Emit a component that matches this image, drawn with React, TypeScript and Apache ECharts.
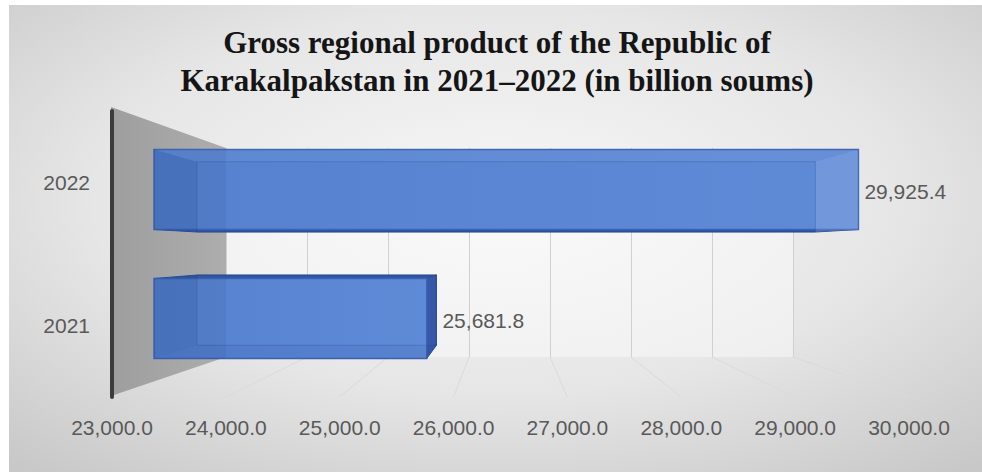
import { useEffect, useRef } from 'react';
import * as echarts from 'echarts';

// ---- data ----
const categories = ['2021', '2022'];
const gdpValues = [25681.8, 29925.4];
const axisMin = 23000;
const axisMax = 30000;
const axisStep = 1000;
const gridTicks = [23000, 24000, 25000, 26000, 27000, 28000, 29000, 30000];
const titleLines = [
  'Gross regional product of the Republic of',
  'Karakalpakstan in 2021\u20132022 (in billion soums)',
];

// ---- layout / style ----
const W = 982;
const H = 472;
const FRONT = { left: 112, right: 73, top: 111, bottom: 75 };
const BARS = { left: 154, right: 116, top: 125, bottom: 89 };
const WALL = { left: 226, right: 189, top: 148, bottom: 115 };
const VP = [506, 250];
const DEPTH = 0.878;
const BAR_H = 80;
const LABEL_FONT = '"Liberation Sans", Arial, sans-serif';
const LABEL_COLOR = '#595959';

const fmt = (v: number) =>
  v.toLocaleString('en-US', { minimumFractionDigits: 1, maximumFractionDigits: 1 });

export default function App() {
  const ref = useRef<HTMLDivElement>(null);

  useEffect(() => {
    if (!ref.current) return;
    const chart = echarts.init(ref.current, null, { renderer: 'svg' });

    const back = (x: number, y: number) => [VP[0] + (x - VP[0]) * DEPTH, VP[1] + (y - VP[1]) * DEPTH];

    const wallFrontTop = [FRONT.left - 1, FRONT.top - 4];
    const wallFrontBottom = [FRONT.left - 1, H - FRONT.bottom - 1];

    const option: any = {
      animation: false,
      backgroundColor: '#ffffff',
      title: {
        text: titleLines.join('\n'),
        left: 492,
        textAlign: 'center',
        top: 18,
        textStyle: {
          fontFamily: '"Liberation Serif", "Times New Roman", serif',
          fontWeight: 'bold',
          fontSize: 31,
          lineHeight: 38,
          color: '#151515',
        },
      },
      graphic: [
        {
          type: 'rect',
          z: -20,
          silent: true,
          shape: { x: 9, y: 5, width: W - 9, height: H - 5 },
          style: {
            fill: new echarts.graphic.RadialGradient(0.5, 0.42, 0.75, [
              { offset: 0, color: '#f7f7f7' },
              { offset: 0.55, color: '#e6e6e6' },
              { offset: 1, color: '#c8c8c8' },
            ]),
          },
        },
        {
          type: 'rect',
          z: -15,
          silent: true,
          shape: {
            x: WALL.left,
            y: WALL.top,
            width: W - WALL.left - WALL.right,
            height: H - WALL.top - WALL.bottom,
          },
          style: { fill: 'rgba(255,255,255,0.4)' },
        },
        {
          type: 'polygon',
          z: -10,
          silent: true,
          shape: {
            points: [
              wallFrontTop,
              [WALL.left, WALL.top],
              [WALL.left, H - WALL.bottom],
              wallFrontBottom,
            ],
          },
          style: {
            fill: new echarts.graphic.LinearGradient(0, 0, 1, 0, [
              { offset: 0, color: '#9e9e9e' },
              { offset: 1, color: '#adadad' },
            ]),
          },
        },
      ],
      grid: [
        { left: FRONT.left, right: FRONT.right, top: FRONT.top, bottom: FRONT.bottom, containLabel: false },
        { left: BARS.left, right: BARS.right, top: BARS.top, bottom: BARS.bottom, containLabel: false },
        { left: WALL.left, right: WALL.right, top: WALL.top, bottom: WALL.bottom, containLabel: false },
      ],
      xAxis: [
        {
          gridIndex: 0,
          type: 'value',
          min: axisMin,
          max: axisMax,
          interval: axisStep,
          axisLine: { show: false },
          axisTick: { show: false },
          splitLine: { show: false },
          axisLabel: {
            formatter: (v: number) => fmt(v),
            fontFamily: LABEL_FONT,
            fontSize: 21,
            color: LABEL_COLOR,
            margin: 20,
          },
        },
        {
          gridIndex: 1,
          type: 'value',
          min: axisMin,
          max: axisMax,
          interval: axisStep,
          show: false,
        },
        {
          gridIndex: 2,
          type: 'value',
          min: axisMin,
          max: axisMax,
          interval: axisStep,
          axisLine: { show: false },
          axisTick: { show: false },
          axisLabel: { show: false },
          splitLine: { show: true, lineStyle: { color: '#d0d0d0', width: 1 } },
        },
      ],
      yAxis: [
        {
          gridIndex: 0,
          type: 'category',
          data: categories,
          axisLine: { show: true, lineStyle: { color: '#3c3c3c', width: 4 } },
          axisTick: { show: false },
          axisLabel: {
            fontFamily: LABEL_FONT,
            fontSize: 21,
            color: LABEL_COLOR,
            margin: 22,
          },
        },
        { gridIndex: 1, type: 'category', data: categories, show: false },
        { gridIndex: 2, type: 'category', data: categories, show: false },
      ],
      series: [
        {
          type: 'custom',
          name: 'floor',
          xAxisIndex: 0,
          yAxisIndex: 0,
          z: 1,
          silent: true,
          encode: { x: 0, y: 1 },
          data: gridTicks.slice(1).map((v) => [v, 0]),
          renderItem: (params: any, api: any) => {
            const v = api.value(0);
            const fx = api.coord([v, 0])[0];
            const cs = params.coordSys;
            const wallW = W - WALL.left - WALL.right;
            const bx = WALL.left + (fx - cs.x) * (wallW / cs.width);
            return {
              type: 'line',
              shape: { x1: bx, y1: H - WALL.bottom, x2: fx, y2: cs.y + cs.height },
              style: { stroke: '#dadada', lineWidth: 1 },
            };
          },
        },
        {
          type: 'custom',
          name: 'GRP',
          xAxisIndex: 1,
          yAxisIndex: 1,
          z: 3,
          encode: { x: 0, y: 1 },
          data: gdpValues.map((v, i) => [v, i]),
          renderItem: (params: any, api: any) => {
            const v = api.value(0);
            const c = api.value(1);
            const p0 = api.coord([axisMin, c]);
            const p1 = api.coord([v, c]);
            const x0 = p0[0];
            const x1 = p1[0];
            const y0 = p0[1] - BAR_H / 2;
            const y1 = p0[1] + BAR_H / 2;
            const A = [x0, y0];
            const B = [x1, y0];
            const C = [x1, y1];
            const D = [x0, y1];
            const Ab = back(x0, y0);
            const Bb = back(x1, y0);
            const Cb = back(x1, y1);
            const Db = back(x0, y1);
            const dark = '#2f55a3';
            const children: any[] = [];
            const poly = (pts: number[][], fill: string, stroke?: string) => ({
              type: 'polygon',
              shape: { points: pts },
              style: { fill, stroke: stroke || 'none', lineWidth: 1 },
            });
            const topOut = Ab[1] < y0;
            const botOut = Db[1] > y1;
            const rightOut = Bb[0] > x1;
            // outside faces
            if (topOut) children.push(poly([A, B, Bb, Ab], dark, '#2b4f98'));
            if (botOut) children.push(poly([D, C, Cb, Db], dark, '#2b4f98'));
            if (rightOut) children.push(poly([B, C, Cb, Bb], '#3559a8', '#2b4f98'));
            // front face
            children.push({
              type: 'rect',
              shape: { x: x0, y: y0, width: x1 - x0, height: y1 - y0 },
              style: {
                fill: new echarts.graphic.LinearGradient(0, 0, 1, 0, [
                  { offset: 0, color: '#5581cf' },
                  { offset: 1, color: '#5f8ad6' },
                ]),
                stroke: '#3b63b2',
                lineWidth: 1.5,
              },
            });
            // see-through inner faces
            children.push(poly([A, D, Db, Ab], 'rgba(25,50,125,0.12)'));
            if (!topOut) children.push(poly([A, B, Bb, Ab], 'rgba(255,255,255,0.05)'));
            if (!botOut) children.push(poly([D, C, Cb, Db], 'rgba(25,50,125,0.08)'));
            if (!rightOut) children.push(poly([B, C, Cb, Bb], 'rgba(255,255,255,0.12)'));
            // wall seen through the bar
            const wx = Math.min(WALL.left, x1);
            children.push({
              type: 'rect',
              shape: { x: x0, y: y0, width: wx - x0, height: y1 - y0 },
              style: { fill: 'rgba(30,45,90,0.08)' },
            });
            // back edges
            children.push({
              type: 'polygon',
              shape: { points: [Ab, Bb, Cb, Db] },
              style: { fill: 'none', stroke: 'rgba(35,65,140,0.25)', lineWidth: 1 },
            });
            // value label
            const lx = Math.max(x1, Bb[0]) + 6;
            children.push({
              type: 'text',
              style: {
                text: fmt(v),
                x: lx,
                y: p0[1] + 2,
                verticalAlign: 'middle',
                align: 'left',
                fill: LABEL_COLOR,
                fontSize: 21,
                fontFamily: LABEL_FONT,
              },
            });
            return { type: 'group', children };
          },
        },
      ],
    };

    chart.setOption(option);
    return () => chart.dispose();
  }, []);

  return (
    <div
      ref={ref}
      style={{ position: 'absolute', left: 0, top: 0, width: W, height: H }}
    />
  );
}
